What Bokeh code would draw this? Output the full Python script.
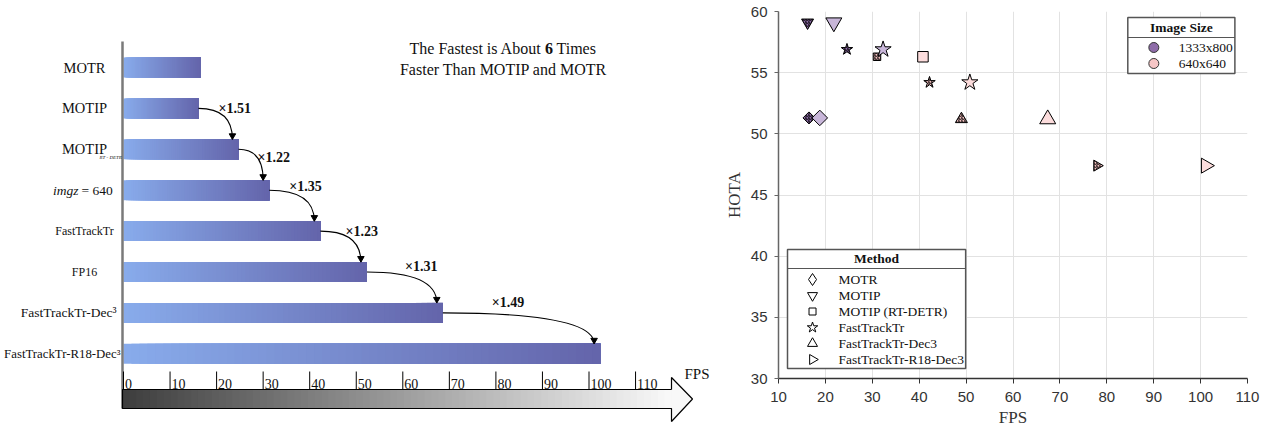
import numpy as np
from bokeh.plotting import figure
from bokeh.layouts import row
from bokeh.models import Range1d, FixedTicker, ColumnDataSource
from bokeh.core.properties import value
from bokeh.embed import file_html
from bokeh.resources import INLINE

# ===================== DATA: left panel =====================
bar_labels = ["MOTR", "MOTIP", "MOTIP", "imgz = 640", "FastTrackTr", "FP16",
              "FastTrackTr-Dec³", "FastTrackTr-R18-Dec³"]
bar_subscripts = ["", "", "RT - DETR", "", "", "", "", ""]
bar_fps = [16.5, 16.1, 24.7, 31.3, 42.3, 52.3, 68.6, 102.4]
speedup_labels = ["×1.51", "×1.22", "×1.35", "×1.23", "×1.31", "×1.49"]
fps_axis_ticks = [0, 10, 20, 30, 40, 50, 60, 70, 80, 90, 100, 110]
fps_axis_title = "FPS"
title_pre = "The Fastest is About"
title_num = "6"
title_post = "Times"
title_line2 = "Faster Than MOTIP and MOTR"

# ===================== DATA: right panel =====================
sc_method = ["MOTR", "MOTR", "MOTIP", "MOTIP", "MOTIP (RT-DETR)", "MOTIP (RT-DETR)",
             "FastTrackTr", "FastTrackTr", "FastTrackTr", "FastTrackTr",
             "FastTrackTr-Dec3", "FastTrackTr-Dec3",
             "FastTrackTr-R18-Dec3", "FastTrackTr-R18-Dec3"]
sc_imgsize = ["1333x800", "1333x800", "1333x800", "1333x800", "640x640", "640x640",
              "1333x800", "1333x800", "640x640", "640x640",
              "640x640", "640x640", "640x640", "640x640"]
sc_variant = [1, 2, 1, 2, 1, 2, 1, 2, 1, 2, 1, 2, 1, 2]
sc_fps = [16.5, 18.8, 16.2, 21.8, 31.0, 40.8, 24.6, 32.3, 42.2, 50.8, 49.0, 67.4, 77.9, 101.1]
sc_hota = [51.3, 51.3, 59.1, 59.1, 56.3, 56.3, 56.9, 56.9, 54.2, 54.2, 51.2, 51.2, 47.4, 47.4]
method_names = ["MOTR", "MOTIP", "MOTIP (RT-DETR)", "FastTrackTr",
                "FastTrackTr-Dec3", "FastTrackTr-R18-Dec3"]
imgsize_names = ["1333x800", "640x640"]
x_ticks = [10, 20, 30, 40, 50, 60, 70, 80, 90, 100, 110]
y_ticks = [30, 35, 40, 45, 50, 55, 60]

# ===================== styles =====================
SERIF = value("Liberation Serif")


def mix(c0, c1, t):
    a = [int(c0[i:i + 2], 16) for i in (1, 3, 5)]
    b = [int(c1[i:i + 2], 16) for i in (1, 3, 5)]
    return "#%02x%02x%02x" % tuple(int(round(a[k] + (b[k] - a[k]) * t)) for k in range(3))


# ---------- left figure (pixel helpers for layout only) ----------
PX0, PXU = 123.0, 4.655
RY0, RYU = 67.0, 40.9


def lx(px):
    return (px - PX0) / PXU


def ly(py):
    return (py - RY0) / RYU


L = figure(width=720, height=430, x_range=Range1d(lx(0), lx(720)),
           y_range=Range1d(ly(430), ly(0)), output_backend="svg",
           toolbar_location=None, min_border=0,
           x_axis_location=None, y_axis_location=None)
L.frame_align = False
L.grid.visible = False
L.outline_line_color = None
L.background_fill_color = "white"

# gradient bars (each slice runs to the bar end; later slices cover earlier ones -> no seams)
N = 60
HALF = 10.0 / RYU
bl, br, bt, bb, bc = [], [], [], [], []
for i, v in enumerate(bar_fps):
    edges = np.linspace(0, v, N + 1)
    for k in range(N):
        bl.append(edges[k])
        br.append(v)
        bt.append(i - HALF)
        bb.append(i + HALF)
        bc.append(mix("#88abeb", "#6465ab", k / (N - 1)))
L.quad(left=bl, right=br, top=bt, bottom=bb, fill_color=bc, line_color=None)

# left vertical axis line
L.segment(x0=[lx(122)], y0=[ly(41)], x1=[lx(122)], y1=[ly(408)],
          line_color="#7a7a7a", line_width=2.5)

# row labels
ctr = [0, 1, 2]
L.text(x=[lx(84)] * 3, y=ctr, text=[bar_labels[i] for i in ctr], text_font=SERIF,
       text_font_size="14.5px", text_align="center", text_baseline="middle", text_color="#111")
L.text(x=[lx(99)], y=[2 + 8 / RYU], text=[bar_subscripts[2]], text_font=SERIF,
       text_font_size="5px", text_font_style="italic", text_align="left",
       text_baseline="middle", text_color="#111")
im_a, im_b = bar_labels[3].split(" ", 1)
L.text(x=[lx(78)], y=[3], text=[im_a], text_font=SERIF, text_font_size="13.5px",
       text_font_style="italic", text_align="right", text_baseline="middle", text_color="#111")
L.text(x=[lx(81)], y=[3], text=[im_b], text_font=SERIF, text_font_size="13.5px",
       text_align="left", text_baseline="middle", text_color="#111")
L.text(x=[lx(84), lx(84)], y=[4, 5], text=[bar_labels[4], bar_labels[5]], text_font=SERIF,
       text_font_size="12px", text_align="center", text_baseline="middle", text_color="#111")
L.text(x=[lx(116)], y=[6], text=[bar_labels[6]], text_font=SERIF,
       text_font_size="13.5px", text_align="right", text_baseline="middle", text_color="#111")
L.text(x=[lx(120)], y=[7], text=[bar_labels[7]], text_font=SERIF,
       text_font_size="12.8px", text_align="right", text_baseline="middle", text_color="#111")

# curved speed-up arrows
lab_dx = [20, 19, 20, 25, 38, 49]
lab_dy = [0, 8, -4, 0, -6, -10]
qx0, qy0, qx1, qy1, hx, hy, tx, ty = [], [], [], [], [], [], [], []
for k in range(len(speedup_labels)):
    i = k + 1
    x0, y0 = bar_fps[i], i
    x1, y1 = bar_fps[i + 1] - 1.3, (i + 1) - HALF
    qx0.append(x0); qy0.append(y0); qx1.append(x1); qy1.append(y1)
    hx.append(x1); hy.append(y1 - 3.6 / RYU)
    tx.append(x0 + lab_dx[k] / PXU); ty.append(y0 + lab_dy[k] / RYU)
L.quadratic(x0=qx0, y0=qy0, x1=qx1, y1=qy1, cx=qx1, cy=qy0, line_color="black", line_width=1.1)
L.scatter(x=hx, y=hy, marker="inverted_triangle", size=6.5, fill_color="black", line_color="black")
L.text(x=tx, y=ty, text=speedup_labels, text_font=SERIF, text_font_size="14px",
       text_font_style="bold", text_align="left", text_baseline="middle", text_color="#111")

# gray gradient FPS arrow
ab_l, ab_r = lx(122), lx(671)
ab_t, ab_b = ly(389), ly(408)
M = 80
ge = np.linspace(ab_l, ab_r, M + 1)
L.quad(left=list(ge[:-1]), right=[ab_r] * M, top=[ab_t] * M, bottom=[ab_b] * M,
       fill_color=[mix("#3e3e3e", "#f8f8f8", k / (M - 1)) for k in range(M)], line_color=None)
L.patch(x=[ab_r, ab_r, lx(692), ab_r, ab_r], y=[ab_t, ly(377), ly(398.5), ly(421), ab_b],
        fill_color="#f8f8f8", line_color=None)
L.line(x=[ab_r, ab_l, ab_l, ab_r, ab_r, lx(692), ab_r, ab_r],
       y=[ab_t, ab_t, ab_b, ab_b, ly(421), ly(398.5), ly(377), ab_t],
       line_color="black", line_width=1.2)
L.segment(x0=fps_axis_ticks, y0=[ly(371)] * len(fps_axis_ticks),
          x1=fps_axis_ticks, y1=[ab_t] * len(fps_axis_ticks), line_color="black", line_width=1)
L.text(x=[t + 1.5 / PXU for t in fps_axis_ticks], y=[ly(383)] * len(fps_axis_ticks),
       text=[str(t) for t in fps_axis_ticks], text_font=SERIF, text_font_size="14px",
       text_align="left", text_baseline="middle", text_color="#111")
L.text(x=[lx(684)], y=[ly(373)], text=[fps_axis_title], text_font=SERIF, text_font_size="15px",
       text_align="left", text_baseline="middle", text_color="#111")

# title
L.text(x=[lx(541)], y=[ly(48)], text=[title_pre], text_font=SERIF, text_font_size="16px",
       text_align="right", text_baseline="middle", text_color="#111")
L.text(x=[lx(548.5)], y=[ly(48)], text=[title_num], text_font=SERIF, text_font_size="16px",
       text_font_style="bold", text_align="center", text_baseline="middle", text_color="#111")
L.text(x=[lx(556)], y=[ly(48)], text=[title_post], text_font=SERIF, text_font_size="16px",
       text_align="left", text_baseline="middle", text_color="#111")
L.text(x=[lx(503)], y=[ly(69)], text=[title_line2], text_font=SERIF, text_font_size="16px",
       text_align="center", text_baseline="middle", text_color="#111")

# ---------- right figure ----------
R = figure(width=548, height=430, x_range=Range1d(10, 110), y_range=Range1d(30, 60),
           output_backend="svg", toolbar_location=None,
           min_border_left=58, min_border_right=21, min_border_top=11, min_border_bottom=52)
R.frame_align = False
R.outline_line_color = None
R.xaxis.ticker = FixedTicker(ticks=x_ticks)
R.yaxis.ticker = FixedTicker(ticks=y_ticks)
R.grid.grid_line_color = "#e2e2e2"
R.grid.grid_line_width = 1
R.axis.minor_tick_line_color = None
R.axis.major_tick_in = 0
R.xaxis.major_tick_out = 5
R.yaxis.major_tick_out = 4
R.xaxis.axis_line_color = "#333333"
R.xaxis.major_tick_line_color = "#333333"
R.yaxis.axis_line_color = "#666666"
R.yaxis.major_tick_line_color = "#666666"
R.axis.axis_line_width = 1.5
R.axis.major_label_text_font = "Liberation Sans"
R.axis.major_label_text_font_size = "15px"
R.axis.major_label_text_color = "#333333"
R.xaxis.major_label_standoff = 8
R.yaxis.major_label_standoff = 7
R.xaxis.axis_label = "FPS"
R.yaxis.axis_label = "HOTA"
R.axis.axis_label_text_font = "Liberation Serif"
R.axis.axis_label_text_font_size = "17px"
R.axis.axis_label_text_font_style = "normal"
R.axis.axis_label_text_color = "#333333"
R.xaxis.axis_label_standoff = 3
R.yaxis.axis_label_standoff = 4

method_marker = {"MOTR": ("square", np.pi / 4), "MOTIP": ("inverted_triangle", 0.0),
                 "MOTIP (RT-DETR)": ("square", 0.0), "FastTrackTr": ("star", 0.0),
                 "FastTrackTr-Dec3": ("triangle", 0.0), "FastTrackTr-R18-Dec3": ("triangle", -np.pi / 2)}
method_msize = {"MOTR": (8.5, 11), "MOTIP": (12, 16), "MOTIP (RT-DETR)": (7.5, 10.5),
                "FastTrackTr": (12, 17), "FastTrackTr-Dec3": (12, 16), "FastTrackTr-R18-Dec3": (11, 15)}
fill_map = {("1333x800", 1): "#8e6ca8", ("1333x800", 2): "#c8b6d9",
            ("640x640", 1): "#f4c0c0", ("640x640", 2): "#fcdcdc"}
legend_fill = {"1333x800": "#8e6ca8", "640x640": "#f7c6c6"}

src = ColumnDataSource(dict(
    fps=sc_fps, hota=sc_hota,
    mk=[method_marker[m][0] for m in sc_method],
    ang=[method_marker[m][1] for m in sc_method],
    sz=[method_msize[m][v - 1] for m, v in zip(sc_method, sc_variant)],
    fc=[fill_map[(s, v)] for s, v in zip(sc_imgsize, sc_variant)],
    hp=["/" if v == 1 else " " for v in sc_variant],
))
R.scatter(x="fps", y="hota", marker="mk", angle="ang", size="sz", fill_color="fc",
          hatch_pattern="hp", hatch_color="black", hatch_scale=3, hatch_weight=0.9,
          line_color="black", line_width=1, source=src)


def rx(px):
    return 10 + (px - 778) / 4.686


def ry(py):
    return 60 - (py - 11) / 12.233


# legend: Image Size
R.quad(left=[rx(1127)], right=[rx(1234)], top=[ry(17)], bottom=[ry(73)],
       fill_color="white", line_color="#555555", line_width=1.5)
R.segment(x0=[rx(1127)], y0=[ry(37)], x1=[rx(1234)], y1=[ry(37)], line_color="#555555", line_width=1.2)
R.text(x=[rx(1180.5)], y=[ry(27)], text=["Image Size"], text_font=SERIF, text_font_size="13.5px",
       text_font_style="bold", text_align="center", text_baseline="middle", text_color="#111")
R.scatter(x=[rx(1153)] * 2, y=[ry(47), ry(63)], marker="circle", size=10,
          fill_color=[legend_fill[s] for s in imgsize_names], line_color="#333333")
R.text(x=[rx(1178)] * 2, y=[ry(47), ry(63)], text=imgsize_names, text_font=SERIF,
       text_font_size="13.5px", text_align="left", text_baseline="middle", text_color="#111")

# legend: Method
R.quad(left=[rx(787)], right=[rx(965)], top=[ry(249)], bottom=[ry(368)],
       fill_color="white", line_color="#555555", line_width=1.5)
R.segment(x0=[rx(787)], y0=[ry(268)], x1=[rx(965)], y1=[ry(268)], line_color="#555555", line_width=1.2)
R.text(x=[rx(876)], y=[ry(258)], text=["Method"], text_font=SERIF, text_font_size="13.5px",
       text_font_style="bold", text_align="center", text_baseline="middle", text_color="#111")
leg_marker = {"MOTR": ("diamond", 0.0, 12), "MOTIP": ("inverted_triangle", 0.0, 10),
              "MOTIP (RT-DETR)": ("square", 0.0, 7), "FastTrackTr": ("star", 0.0, 11),
              "FastTrackTr-Dec3": ("triangle", 0.0, 10), "FastTrackTr-R18-Dec3": ("triangle", -np.pi / 2, 10)}
ly_items = [ry(279 + 16 * k) for k in range(len(method_names))]
R.scatter(x=[rx(812)] * len(method_names), y=ly_items,
          marker=[leg_marker[m][0] for m in method_names],
          angle=[leg_marker[m][1] for m in method_names],
          size=[leg_marker[m][2] for m in method_names],
          fill_color="white", line_color="black", line_width=1)
R.text(x=[rx(838)] * len(method_names), y=ly_items, text=method_names, text_font=SERIF,
       text_font_size="13.5px", text_align="left", text_baseline="middle", text_color="#111")

layout = row(L, R)
open("out.html", "w").write(file_html(layout, INLINE))
